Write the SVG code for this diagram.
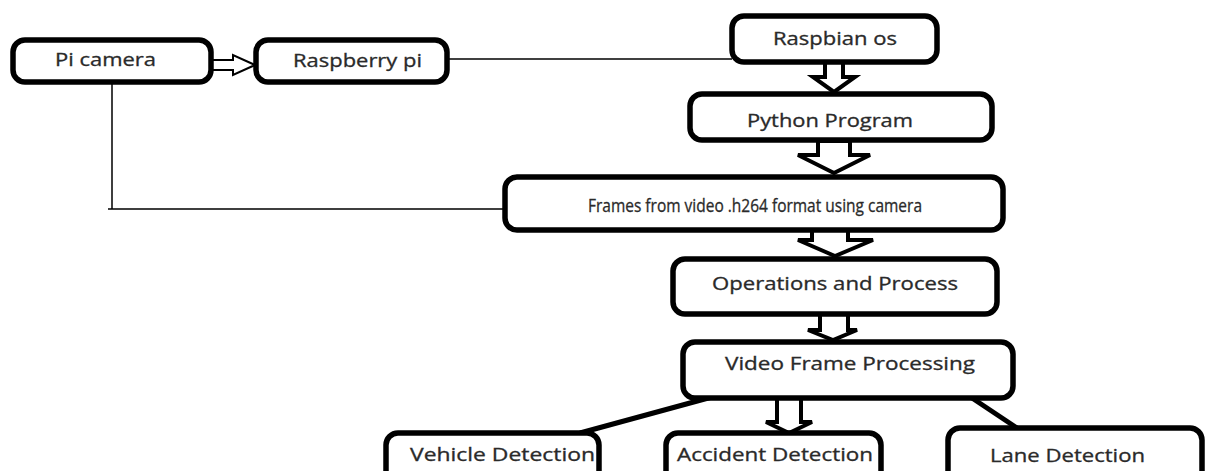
<svg xmlns="http://www.w3.org/2000/svg" width="1206" height="471" viewBox="0 0 1206 471">
<style>
.box{fill:#fff;stroke:#000;stroke-width:5.5}
.lbl{font-family:"Open Sans","Liberation Sans",sans-serif;font-size:17.5px;fill:#2a2a2a;stroke:#2a2a2a;stroke-width:0.3}
.thin{fill:none;stroke:#000;stroke-width:1.5}
.thick{fill:none;stroke:#000;stroke-width:5}
.blk{fill:#fff;stroke:#000;stroke-width:4;stroke-linejoin:miter}
.blk2{fill:#fff;stroke:#000;stroke-width:2}
</style>
<rect width="1206" height="471" fill="#fff"/>
<g id="connectors">
<path class="thin" d="M447 59 H732"/>
<path class="thin" d="M112 82 V209 M108 209 H505"/>
<polygon class="blk2" points="211,60 233,60 233,55 255,65 233,75 233,70 211,70"/>
<polygon class="blk" points="825,62 825,77 813,77 834,92 855,77 843,77 843,62"/>
<polygon class="blk" points="818,141 818,155 798,155 834,173 870,155 850,155 850,141"/>
<polygon class="blk" points="812,230 812,240 798,240 835,256 873,240 848,240 848,230"/>
<polygon class="blk" points="820,314 820,330 808,330 833,340 857,330 848,330 848,314"/>
<polygon class="blk" points="777,398 777,422 766,422 789,433 812,422 801,422 801,398"/>
<path class="thick" d="M712 397 L580 433"/>
<path class="thick" d="M972 398 L1017 428"/>
</g>
<g id="pi-camera">
<rect class="box" x="13" y="40" width="198" height="42" rx="12"/>
<text class="lbl" x="55" y="66" textLength="101" lengthAdjust="spacingAndGlyphs">Pi camera</text>
</g>
<g id="raspberry-pi">
<rect class="box" x="256" y="40" width="191" height="42" rx="12"/>
<text class="lbl" x="293" y="67" textLength="129" lengthAdjust="spacingAndGlyphs">Raspberry pi</text>
</g>
<g id="raspbian-os">
<rect class="box" x="732" y="16" width="205" height="46" rx="12"/>
<text class="lbl" x="773" y="45" textLength="124" lengthAdjust="spacingAndGlyphs">Raspbian os</text>
</g>
<g id="python-program">
<rect class="box" x="690" y="94" width="302" height="46" rx="12"/>
<text class="lbl" x="747" y="127" textLength="166" lengthAdjust="spacingAndGlyphs">Python Program</text>
</g>
<g id="frames">
<rect class="box" x="505" y="177" width="498" height="53" rx="12"/>
<text class="lbl" x="588" y="212" textLength="334" lengthAdjust="spacingAndGlyphs">Frames from video .h264 format using camera</text>
</g>
<g id="operations">
<rect class="box" x="673" y="259" width="324" height="55" rx="12"/>
<text class="lbl" x="712" y="290" textLength="246" lengthAdjust="spacingAndGlyphs">Operations and Process</text>
</g>
<g id="video-frame-processing">
<rect class="box" x="683" y="342" width="330" height="56" rx="12"/>
<text class="lbl" x="725" y="370" textLength="250" lengthAdjust="spacingAndGlyphs">Video Frame Processing</text>
</g>
<g id="vehicle-detection">
<rect class="box" x="386" y="433" width="213" height="50" rx="12"/>
<text class="lbl" x="410" y="461" textLength="185" lengthAdjust="spacingAndGlyphs">Vehicle Detection</text>
</g>
<g id="accident-detection">
<rect class="box" x="666" y="433" width="215" height="50" rx="12"/>
<text class="lbl" x="677" y="461" textLength="196" lengthAdjust="spacingAndGlyphs">Accident Detection</text>
</g>
<g id="lane-detection">
<rect class="box" x="948" y="428" width="254" height="55" rx="12"/>
<text class="lbl" x="990" y="462" textLength="155" lengthAdjust="spacingAndGlyphs">Lane Detection</text>
</g>
</svg>
